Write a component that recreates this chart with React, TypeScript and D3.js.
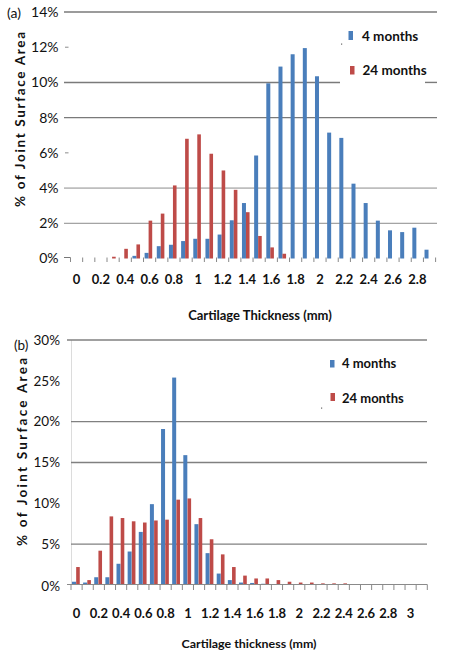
import React from "react";
import * as d3 from "d3";

// ---------- Data ----------
const topCategories = ["0","0.1","0.2","0.3","0.4","0.5","0.6","0.7","0.8","0.9","1","1.1","1.2","1.3","1.4","1.5","1.6","1.7","1.8","1.9","2","2.1","2.2","2.3","2.4","2.5","2.6","2.7","2.8","2.9"];
const topMonths4 = [0,0,0,0,0,0.15,0.32,0.7,0.78,0.99,1.12,1.12,1.36,2.17,3.15,5.85,9.95,10.9,11.6,11.95,10.35,7.15,6.85,4.25,3.15,2.15,1.6,1.5,1.75,0.5];
const topMonths24 = [0,0,0,0.1,0.55,0.8,2.15,2.55,4.15,6.8,7.05,5.95,5.0,3.9,2.63,1.28,0.63,0.27,0,0,0,0,0,0,0,0,0,0,0,0];
const topYTicks = [0,2,4,6,8,10,12,14];

const botCategories = ["0","0.1","0.2","0.3","0.4","0.5","0.6","0.7","0.8","0.9","1","1.1","1.2","1.3","1.4","1.5","1.6","1.7","1.8","1.9","2","2.1","2.2","2.3","2.4","2.5","2.6","2.7","2.8","2.9","3","3.1"];
const botMonths4 = [0.4,0.3,0.95,0.95,2.6,4.1,6.5,9.9,19.1,25.4,15.9,7.45,3.9,1.4,0.6,0.3,0.25,0.15,0.1,0.05,0,0,0,0,0,0,0,0,0,0,0,0];
const botMonths24 = [2.2,0.6,4.2,8.4,8.2,7.8,7.65,7.9,8.0,10.45,10.6,8.2,5.6,3.75,2.2,1.15,0.8,0.8,0.6,0.4,0.3,0.3,0.2,0.2,0.2,0,0,0,0,0,0,0];
const botYTicks = [0,5,10,15,20,25,30];

const seriesNames = ["4 months", "24 months"];

const BLUE = "#4A7EBB";
const RED = "#BE4B48";
const FONT = "Lato, 'Open Sans', sans-serif";

export default function App() {
  // ---- top chart scales ----
  const xT = d3.scaleBand<string>().domain(topCategories).range([70.5, 435.6]).padding(0);
  const yT = d3.scaleLinear().domain([0, 14]).range([258.5, 12]);
  const bwT = xT.bandwidth();

  // ---- bottom chart scales ----
  const xB = d3.scaleBand<string>().domain(botCategories).range([71, 427.3]).padding(0);
  const yB = d3.scaleLinear().domain([0, 30]).range([585, 340]);
  const bwB = xB.bandwidth();

  const topGridFull = [14, 8, 4, 2];
  const botGrid = [30, 20, 15, 5];

  return (
    <svg width={449} height={659} style={{ position: "absolute", left: 0, top: 0, background: "#fff" }} fontFamily={FONT}>
      <rect x={0} y={0} width={449} height={659} fill="#fff" />

      {/* ================= TOP CHART ================= */}
      {topGridFull.map((v) => (
        <line key={"tg" + v} x1={64} x2={437} y1={yT(v)} y2={yT(v)} stroke={v >= 8 ? "#7a7a7a" : "#8c8c8c"} strokeWidth={v >= 8 ? 1.4 : 1} />
      ))}
      {/* 10% gridline broken by legend */}
      <line x1={64} x2={340} y1={yT(10)} y2={yT(10)} stroke="#7a7a7a" strokeWidth={1.4} />
      <line x1={425} x2={437} y1={yT(10)} y2={yT(10)} stroke="#7a7a7a" strokeWidth={1.4} />
      {[12, 6].map((v) => (
        <line key={"td" + v} x1={65} x2={68.5} y1={yT(v)} y2={yT(v)} stroke="#8c8c8c" strokeWidth={1} />
      ))}
      <rect x={341} y={43.5} width={1.2} height={1.2} fill="#666" />

      {/* bars */}
      {topCategories.map((c, i) => {
        const cx = (xT(c) as number) + bwT / 2;
        return (
          <g key={"tb" + c}>
            {topMonths4[i] > 0 && (
              <rect x={cx - 5} width={4} y={yT(topMonths4[i])} height={yT(0) - yT(topMonths4[i])} fill={BLUE} />
            )}
            {topMonths24[i] > 0 && (
              <rect x={cx - 1} width={3.6} y={yT(topMonths24[i])} height={yT(0) - yT(topMonths24[i])} fill={RED} />
            )}
          </g>
        );
      })}

      {/* x ticks */}
      <line x1={64} x2={70.5} y1={257.5} y2={257.5} stroke="#777" strokeWidth={1} />
      {d3.range(topCategories.length + 1).map((k) => {
        const x = k < topCategories.length ? (xT(topCategories[k]) as number) : 435.6;
        return <line key={"tt" + k} x1={x} x2={x} y1={257.5} y2={262} stroke="#888" strokeWidth={1} />;
      })}

      {/* y tick labels */}
      {topYTicks.map((v) => (
        <text key={"tyl" + v} x={58.5} y={yT(v)} dy="0.35em" textAnchor="end" fontSize={14} fill="#111">{v + "%"}</text>
      ))}
      <text x={7} y={13} dy="0.35em" fontSize={14} fill="#111">(a)</text>

      {/* x tick labels */}
      {topCategories.map((c, i) => i % 2 === 0 ? (
        <text key={"txl" + c} x={(xT(c) as number) + bwT / 2} y={279.5} dy="0.35em" textAnchor="middle" fontSize={13} fontWeight={700} fill="#111">{c}</text>
      ) : null)}

      <text x={260} y={315} dy="0.35em" textAnchor="middle" fontSize={13} fontWeight={700} fill="#111">Cartilage Thickness (mm)</text>
      <text transform="translate(20,119.5) rotate(-90)" textAnchor="middle" dy="0.35em" fontSize={13.5} fontWeight={700} fill="#111" textLength={175} lengthAdjust="spacing">% of Joint Surface Area</text>

      {/* legend */}
      <rect x={348.5} y={31} width={4.5} height={9} fill={BLUE} />
      <text x={362} y={36} dy="0.35em" fontSize={13.5} fontWeight={700} fill="#111">{seriesNames[0]}</text>
      <rect x={350} y={66} width={4.5} height={8.5} fill={RED} />
      <text x={362.5} y={70.5} dy="0.35em" fontSize={13.5} fontWeight={700} fill="#111">{seriesNames[1]}</text>

      {/* ================= BOTTOM CHART ================= */}
      <line x1={71.5} x2={71.5} y1={340} y2={585} stroke="#dcdcdc" strokeWidth={1} />
      {botGrid.map((v) => (
        <line key={"bg" + v} x1={v === 30 ? 67 : 71} x2={427} y1={yB(v)} y2={yB(v)} stroke="#808080" strokeWidth={1.3} />
      ))}

      {botCategories.map((c, i) => {
        const cx = (xB(c) as number) + bwB / 2;
        return (
          <g key={"bb" + c}>
            {botMonths4[i] > 0 && (
              <rect x={cx - 4.6} width={4} y={yB(botMonths4[i])} height={yB(0) - yB(botMonths4[i])} fill={BLUE} />
            )}
            {botMonths24[i] > 0 && (
              <rect x={cx - 0.4} width={3.6} y={yB(botMonths24[i])} height={yB(0) - yB(botMonths24[i])} fill={RED} />
            )}
          </g>
        );
      })}

      {/* axis line & ticks */}
      <line x1={67} x2={427.3} y1={584.5} y2={584.5} stroke="#8a8a8a" strokeWidth={1.2} />
      {d3.range(botCategories.length + 1).map((k) => {
        const x = k < botCategories.length ? (xB(botCategories[k]) as number) : 427.3;
        return <line key={"bt" + k} x1={x} x2={x} y1={584.5} y2={590} stroke="#8a8a8a" strokeWidth={1} />;
      })}

      {botYTicks.map((v) => (
        <text key={"byl" + v} x={60} y={yB(v) + (v === 0 ? 1.5 : 0)} dy="0.35em" textAnchor="end" fontSize={13.5} fill="#111">{v + "%"}</text>
      ))}
      <text x={14} y={345} dy="0.35em" fontSize={13.5} fill="#111">(b)</text>

      {botCategories.map((c, i) => i % 2 === 0 ? (
        <text key={"bxl" + c} x={(xB(c) as number) + bwB / 2} y={613.5} dy="0.35em" textAnchor="middle" fontSize={13} fontWeight={700} fill="#111">{c}</text>
      ) : null)}

      <text x={249} y={643.5} dy="0.35em" textAnchor="middle" fontSize={12} fontWeight={700} fill="#111" textLength={135} lengthAdjust="spacingAndGlyphs">Cartilage thickness (mm)</text>
      <text transform="translate(22,452) rotate(-90)" textAnchor="middle" dy="0.35em" fontSize={13.5} fontWeight={700} fill="#111" textLength={188} lengthAdjust="spacing">% of Joint Surface Area</text>

      <rect x={330} y={360} width={4.5} height={7.5} fill={BLUE} />
      <text x={342} y={363.5} dy="0.35em" fontSize={13} fontWeight={700} fill="#111">{seriesNames[0]}</text>
      <rect x={330.5} y={393} width={4.5} height={8} fill={RED} />
      <text x={342} y={398.5} dy="0.35em" fontSize={13} fontWeight={700} fill="#111">{seriesNames[1]}</text>
      <rect x={321} y={407.5} width={1.2} height={1.2} fill="#666" />
    </svg>
  );
}
